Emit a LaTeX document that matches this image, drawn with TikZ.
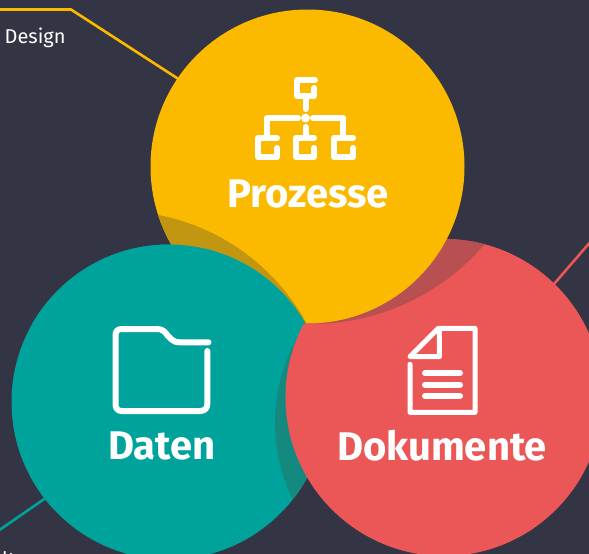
\documentclass[tikz,border=0pt]{standalone}
\usepackage{fontspec}
\setmainfont{Fira Sans}
\definecolor{bgc}{HTML}{333544}
\definecolor{yel}{HTML}{FBBA00}
\definecolor{yeld}{HTML}{C39612}
\definecolor{tea}{HTML}{00A39B}
\definecolor{tead}{HTML}{14897F}
\definecolor{rd}{HTML}{EB5757}
\definecolor{rdd}{HTML}{B84F50}
\tikzset{
  link/.style={line width=2.6pt},
  ico/.style={draw=white,line width=6pt,line cap=round,line join=round},
  icothin/.style={draw=white,line width=5pt,line cap=round,line join=round},
  title/.style={text=white,font=\bfseries\fontsize{40}{42}\selectfont,inner sep=0pt,anchor=center},
  small/.style={text=white,font=\fontsize{20}{23}\selectfont,inner sep=0pt,anchor=west},
}
\begin{document}
\begin{tikzpicture}[x=1pt,y=-1pt]
\useasboundingbox (0,0) rectangle (589,554);
\clip (0,0) rectangle (589,554);
\fill[bgc] (0,0) rectangle (589,554);
% connector coordinates
\coordinate (yA) at (-2,9.5); \coordinate (yB) at (71,9.5); \coordinate (yC) at (180,80);
\coordinate (tA) at (-2,531); \coordinate (tB) at (50,495);
\coordinate (rA) at (592,240); \coordinate (rB) at (554,284);
\coordinate (cy) at (307.5,166.5); \coordinate (ct) at (169,402); \coordinate (cr) at (444,397.5);
\draw[link,yel] (yA) -- (yB) -- (yC);
\draw[link,tea] (tA) -- (tB);
\draw[link,rd] (rA) -- (rB);
\node[small] (design) at (4.5,38) {Design};
\node[small] (cut) at (2,559) {lt};
% teal with red's shade
\fill[tea] (ct) circle (157.5);
\begin{scope}
  \clip (ct) circle (157.5);
  \fill[tead] (449,423) circle (174);
\end{scope}
% red with yellow's shade
\fill[rd] (cr) circle (158.5);
\begin{scope}
  \clip (cr) circle (158.5);
  \fill[rdd] (311,95) circle (229);
\end{scope}
% yellow with teal's shade
\fill[yel] (cy) circle (157);
\begin{scope}
  \clip (cy) circle (157);
  \fill[yeld] (117,427) circle (216);
\end{scope}
% teal again, over yellow only
\begin{scope}
  \clip (0,0) rectangle (305.2,323.8);
  \fill[tea] (ct) circle (157.5);
\end{scope}
% org chart icon
\draw[ico] (315,80) -- (297,80) -- (297,96) -- (314,96) -- (314,88);
\draw[ico] (305.5,98) -- (305.5,109);
\fill[white] (305.5,118) circle (4.4);
\draw[ico] (298,118) -- (267,118) -- (267,135);
\draw[ico] (313,118) -- (343,118) -- (343,135);
\draw[ico] (305.5,127) -- (305.5,138);
\draw[ico] (277,138) -- (258,138) -- (258,157) -- (277,157) -- (277,148);
\draw[ico] (314,138) -- (296,138) -- (296,157) -- (314,157) -- (314,148);
\draw[ico] (353,138) -- (334,138) -- (334,157) -- (353,157) -- (353,148);
% folder icon
\draw[ico] (208.5,342.3) -- (180,342.3) .. controls (172,342.3) and (171,338) .. (168,336) .. controls (165,332) and (163,329) .. (157,329) -- (122,329) .. controls (118,329) and (115.5,331) .. (115.5,335) -- (115.5,404) .. controls (115.5,409) and (118,411) .. (122,411) -- (200,411) .. controls (205,411) and (207.3,408) .. (207.3,404) -- (207.3,351);
% document icon
\draw[icothin] (410,364.3) -- (410,412.3) -- (475,412.3) -- (475,328.3) -- (438.3,328.3) -- (410,356.7) -- (439.3,356.7) -- (439.3,330);
\draw[ico] (425,373.3) -- (460,373.3);
\draw[ico] (425,384.6) -- (460,384.6);
\draw[ico] (425,396) -- (460,396);
% titles
\node[title] (prozesse) at (308,194) {Prozesse};
\node[title] (daten) at (162,446) {Daten};
\node[title] (dokumente) at (442,446) {Dokumente};
\end{tikzpicture}
\end{document}
